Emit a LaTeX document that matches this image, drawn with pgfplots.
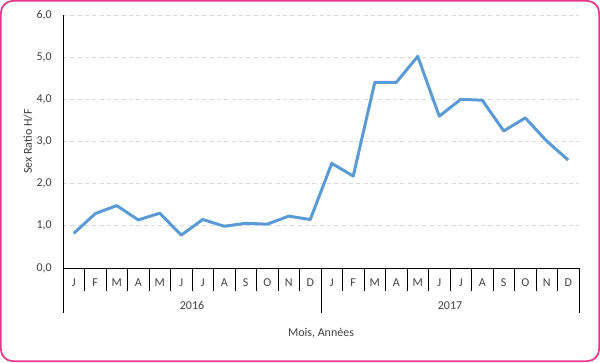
\documentclass[border=0pt]{standalone}
\usepackage{pgfplots}
\pgfplotsset{compat=1.18}
\usepackage{fontspec}
\setmainfont{Carlito}
\definecolor{pinkb}{RGB}{232,52,140}
\definecolor{blueline}{RGB}{91,155,213}
\definecolor{txt}{RGB}{64,64,64}
\definecolor{gridc}{RGB}{217,217,217}
\pgfplotstableread{
x y
0 0.82
1 1.29
2 1.48
3 1.14
4 1.30
5 0.78
6 1.15
7 0.99
8 1.06
9 1.04
10 1.23
11 1.15
12 2.48
13 2.18
14 4.40
15 4.40
16 5.02
17 3.60
18 4.00
19 3.98
20 3.25
21 3.56
22 3.01
23 2.56
}\sexratio
\begin{document}
\begin{tikzpicture}
\useasboundingbox (0,0) rectangle (450pt,271.5pt);
\draw[pinkb, line width=1.3pt, rounded corners=9pt] (0.65pt,0.65pt) rectangle (449.35pt,270.85pt);
\begin{axis}[
  at={(47.25pt,70.5pt)}, anchor=south west,
  scale only axis, width=387pt, height=189.75pt,
  xmin=-0.5, xmax=23.5, ymin=0, ymax=6,
  axis x line=bottom, axis y line=left,
  axis line style={-, black, line width=0.6pt},
  /pgf/number format/assume math mode=true,
  ytick={0,1,...,6},
  yticklabel style={/pgf/number format/use comma, /pgf/number format/fixed, /pgf/number format/fixed zerofill, /pgf/number format/precision=1, anchor=east, inner sep=0pt, xshift=-8.25pt},
  ytick style={draw=none},
  ymajorgrids,
  grid style={gridc, dash pattern=on 3pt off 2.5pt, line width=0.6pt},
  xtick={0,...,23},
  xticklabels={J,F,M,A,M,J,J,A,S,O,N,D,J,F,M,A,M,J,J,A,S,O,N,D},
  minor xtick={-0.5,0.5,...,23.5},
  major tick length=0pt,
  minor tick length=17.25pt,
  tick align=outside,
  xtick pos=bottom,
  minor tick style={black, line width=0.6pt},
  xticklabel style={anchor=base, inner sep=0pt, yshift=-13.5pt},
  tick label style={font=\fontsize{9}{11}\selectfont, text=txt},
  clip=false,
]
\addplot[blueline, line width=2.25pt, line join=round, no markers] table[x=x,y=y] {\sexratio};
\draw[black, line width=0.6pt] (axis cs:-0.5,0) -- ++(0pt,-33.75pt);
\draw[black, line width=0.6pt] (axis cs:11.5,0) -- ++(0pt,-33.75pt);
\draw[black, line width=0.6pt] (axis cs:23.5,0) -- ++(0pt,-33.75pt);
\node[font=\fontsize{9}{11}\selectfont, text=txt, anchor=base] at ([yshift=-31pt]axis cs:5.5,0) {2016};
\node[font=\fontsize{9}{11}\selectfont, text=txt, anchor=base] at ([yshift=-31pt]axis cs:17.5,0) {2017};
\end{axis}
\node[font=\fontsize{9}{11}\selectfont, text=txt, anchor=base] at (240.75pt,19pt) {Mois, Années};
\node[font=\fontsize{9}{11}\selectfont, text=txt, rotate=90] at (21pt,165.4pt) {Sex Ratio H/F};
\end{tikzpicture}
\end{document}
